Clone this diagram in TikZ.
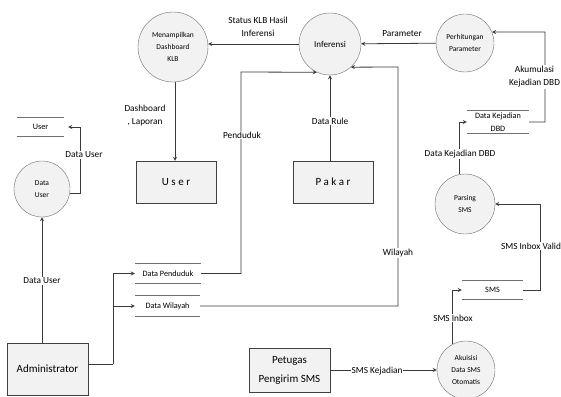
\documentclass[tikz,border=0pt]{standalone}
\usepackage{fontspec}
\setmainfont{Carlito}
\definecolor{nodeline}{HTML}{6E6E6E}
\definecolor{nodefill}{HTML}{F2F2F2}
\definecolor{boxline}{HTML}{404040}
\definecolor{flowline}{HTML}{3A3A3A}
\definecolor{storeline}{HTML}{707070}

\begin{document}
\begin{tikzpicture}[x=1pt, y=-1pt,
  proc/.style={draw=nodeline, fill=nodefill, circle, inner sep=0pt, align=center, font=\fontsize{7.5}{12}\selectfont},
  entity/.style={draw=boxline, fill=nodefill, inner sep=0pt, align=center, font=\fontsize{11}{19}\selectfont},
  store/.style={inner sep=0pt, align=center, font=\fontsize{8.2}{13}\selectfont},
  lbl/.style={align=center, font=\fontsize{9.3}{13}\selectfont, inner sep=1pt},
  onlbl/.style={lbl, fill=white},
  flow/.style={draw=flowline, line width=0.8pt, -stealth},
  sline/.style={draw=storeline, line width=0.8pt}]
\useasboundingbox (0,0) rectangle (561,396);

% processes
\node[proc, minimum size=70] (dash) at (173,47) {Menampilkan\\Dashboard\\KLB};
\node[proc, minimum size=62, font=\fontsize{9}{12}\selectfont] (inf) at (330,44) {Inferensi};
\node[proc, minimum size=58] (hitung) at (465,43) {Perhitungan\\Parameter};
\node[proc, minimum size=56] (duser) at (42,189) {Data\\User};
\node[proc, minimum size=60] (parse) at (465,204) {Parsing\\SMS};
\node[proc, minimum size=58] (akuisisi) at (466,370) {Akuisisi\\Data SMS\\Otomatis};

% entities
\node[entity, minimum width=80, minimum height=42] (user) at (176,182) {\addfontfeature{LetterSpace=23}User};
\node[entity, minimum width=80, minimum height=42] (pakar) at (333,182) {\addfontfeature{LetterSpace=23}Pakar};
\node[entity, minimum width=81, minimum height=52] (admin) at (47.5,369) {Administrator};
\node[entity, minimum width=81, minimum height=44] (petugas) at (289.5,370) {Petugas\\Pengirim SMS};

% data stores
\node[store, minimum width=47, minimum height=18] (ustore) at (40.5,127) {User};
\node[store, minimum width=66, minimum height=19] (pendstore) at (168,273.5) {Data Penduduk};
\node[store, minimum width=65, minimum height=20] (wilstore) at (167.5,306) {Data Wilayah};
\node[store, minimum width=62, minimum height=22] (dbdstore) at (498,122) {Data Kejadian\\DBD};
\node[store, minimum width=61, minimum height=18] (smsstore) at (492.5,290) {SMS};
\foreach \s in {ustore,pendstore,wilstore,dbdstore,smsstore}
  \draw[sline] (\s.north west) -- (\s.north east) (\s.south west) -- (\s.south east);

% bends
\coordinate (split) at (113,364);
\coordinate (pendbend) at (241,72);
\coordinate (wilbend) at (398,67);
\coordinate (akbend) at (545,32);
\coordinate (smsbend) at (540,204);
\coordinate (udbend) at (80,127);

% flows
\draw[flow] (inf.west) -- (inf.west -| dash.east);
\node[lbl] (lstatus) at (258,27) {Status KLB Hasil\\Inferensi};
\draw[flow] (dash.south -| 175,0) -- (user.north -| 175,0);
\node[lbl] (ldash) at (145,116) {Dashboard\\, Laporan};
\draw[flow] (hitung) -- (inf);
\node[lbl] (lparam) at (402,34) {Parameter};
\draw[flow] (pakar.north -| inf.south) -- (inf.south);
\node[onlbl] (lrule) at (330,121) {Data Rule};
\draw[draw=flowline, line width=0.8pt] ([yshift=5pt]admin.east) -- (split);
\draw[flow] (split) |- (pendstore.west);
\draw[flow] (split) |- (wilstore.west);
\draw[flow] (pendstore.east) -| (pendbend) -- (inf.-115);
\node[onlbl] (lpend) at (242,135) {Penduduk};
\draw[flow] (wilstore.east) -| (wilbend) -- (inf.-48);
\node[onlbl] (lwil) at (398,253) {Wilayah};
\draw[flow] (dbdstore.east) -| (akbend) -- (hitung.22);
\node[onlbl] (lakum) at (534.5,77) {Akumulasi\\Kejadian DBD};
\draw[flow] (parse.101.5) |- (dbdstore.west);
\node[onlbl] (lkej) at (460,154) {Data Kejadian DBD};
\draw[flow] (smsstore.east) -| (smsbend) -- (parse.east);
\node[onlbl] (lvalid) at (531,246) {SMS Inbox Valid};
\draw[flow] (akuisisi.117) |- (smsstore.west);
\node[onlbl] (linbox) at (453,318) {SMS Inbox};
\draw[flow] (petugas.east) -- (akuisisi.west);
\node[onlbl] (lsmskej) at (377,371) {SMS Kejadian};
\draw[flow] (duser.-8) -| (udbend) -- ([xshift=4pt]ustore.east);
\node[onlbl] (ludata) at (84,155) {Data User};
\draw[flow] (admin.north -| duser.south) -- (duser.south);
\node[onlbl] (ladmin) at (42,281) {Data User};
\end{tikzpicture}
\end{document}
